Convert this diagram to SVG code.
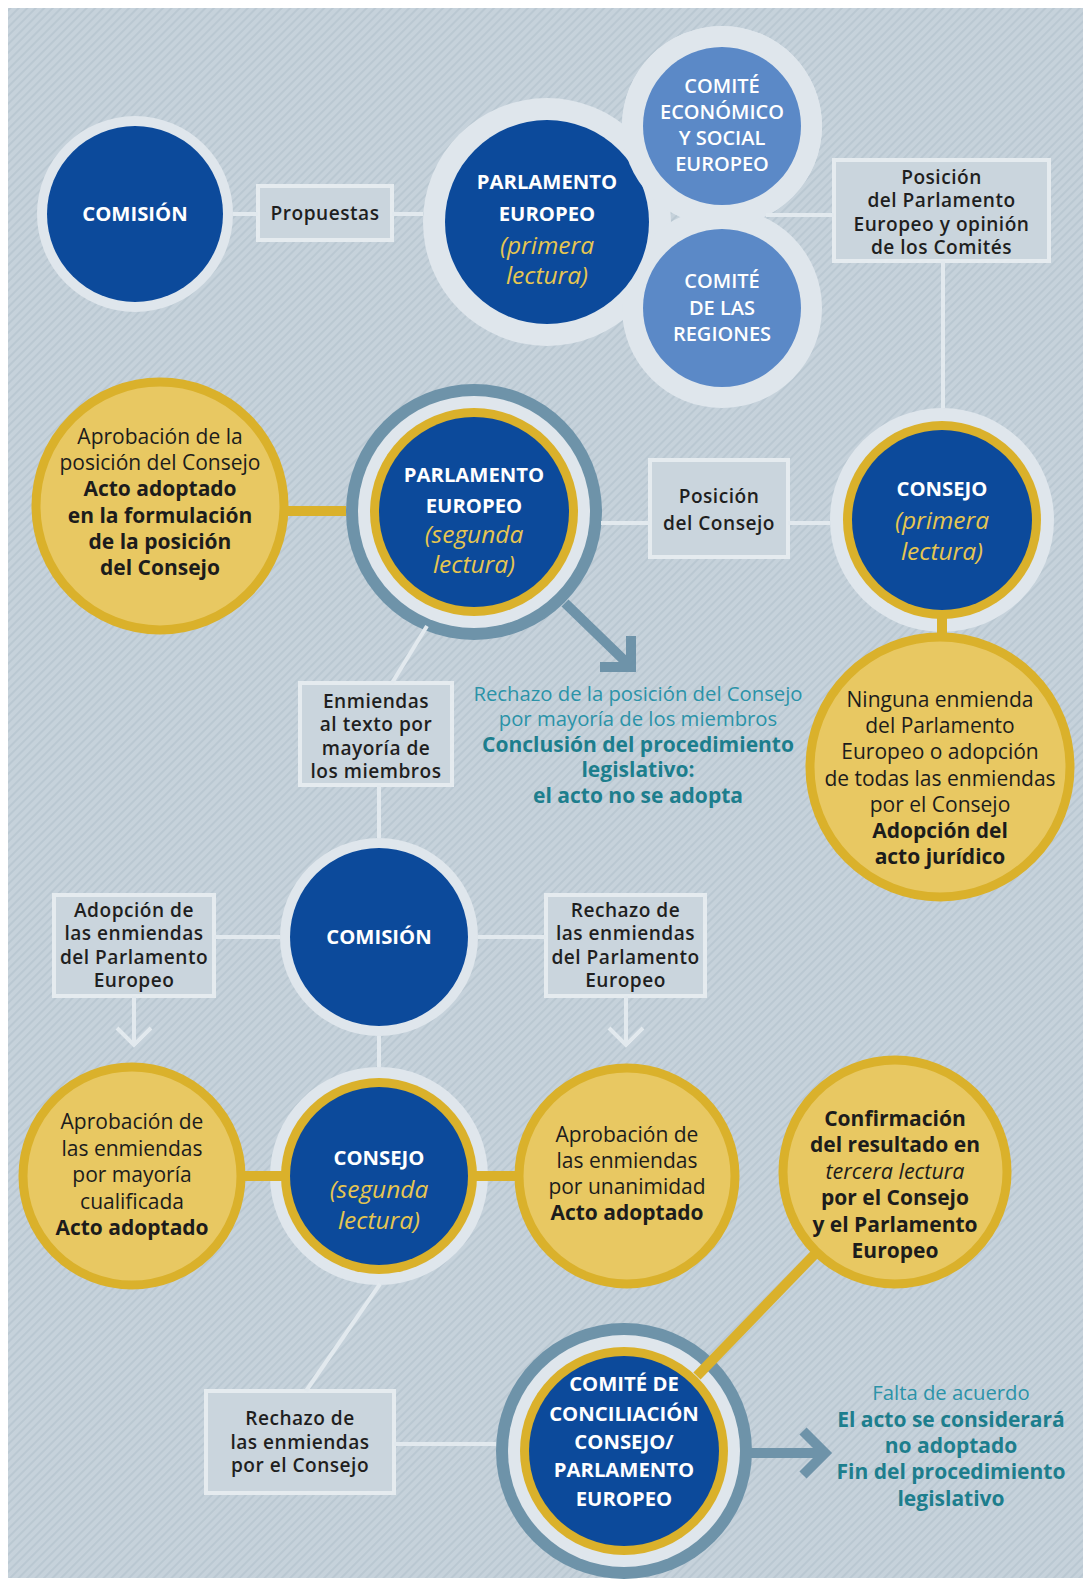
<svg xmlns="http://www.w3.org/2000/svg" width="1083" height="1586" viewBox="0 0 1083 1586">
<defs>
<pattern id="stripes" width="6" height="6" patternUnits="userSpaceOnUse" patternTransform="rotate(45)">
<rect width="6" height="6" fill="#c6d2db"/>
<rect width="2" height="6" fill="#bac8d2"/>
</pattern>
<style>
text{font-family:"Open Sans","Noto Sans","DejaVu Sans",sans-serif;text-anchor:middle}
.t{font-size:20.3px;font-weight:700;fill:#ffffff}
.it{font-size:24.5px;font-style:italic;font-weight:400;fill:#e6c651}
.cm{font-size:20px;font-weight:600;fill:#ffffff}
.bx{font-size:19.1px;font-weight:600;letter-spacing:0.5px;fill:#1f1f1f}
.n{font-size:21px;font-weight:400;fill:#1c1c1c}
.b{font-size:21px;font-weight:700;fill:#1c1c1c}
.i{font-size:21.5px;font-style:italic;font-weight:400;fill:#1c1c1c}
.tn{font-size:20.3px;font-weight:400;fill:#2b93a8}
.tb{font-size:21px;font-weight:700;fill:#1d7e8d}
.box{fill:#cad5dd;stroke:#e5ebef;stroke-width:4}
.blue{fill:#0c4a9b}
.ring{fill:#dfe6ec}
.gold{fill:#dab12b}
.steel{fill:#6e93a9}
.yel{fill:#e8c862;stroke:#dab12b;stroke-width:9}
.cb{fill:#5b89c7}
.ln{stroke:#e2e9ee;stroke-width:4;fill:none}
.gl{stroke:#dab12b;stroke-width:10;fill:none}
.ar{stroke:#6e93a9;stroke-width:10;fill:none;stroke-linejoin:miter}
</style>
</defs>
<rect width="1083" height="1586" fill="#ffffff"/>
<rect x="8" y="8" width="1075" height="1570" fill="url(#stripes)"/>

<g id="comision-1">
<circle cx="135" cy="214" r="98" class="ring"/>
<circle cx="135" cy="214" r="88" class="blue"/>
<text x="135" y="221" class="t">COMISIÓN</text>
</g>

<g id="propuestas">
<rect x="258" y="186" width="134" height="54" class="box"/>
<text x="325" y="220" class="bx">Propuestas</text>
</g>

<g id="parlamento-1">
<circle cx="547" cy="222" r="124" class="ring"/>
<circle cx="722" cy="126" r="100" class="ring"/>
<circle cx="722" cy="308" r="100" class="ring"/>
<circle cx="547" cy="222" r="102" class="blue"/>
<text x="547" y="189"><tspan x="547" y="189" class="t">PARLAMENTO</tspan><tspan x="547" y="221" class="t">EUROPEO</tspan><tspan x="547" y="254" class="it">(primera</tspan><tspan x="547" y="284" class="it">lectura)</tspan></text>
</g>

<g id="comite-economico">
<circle cx="722" cy="126" r="100" class="ring"/>
<circle cx="722" cy="126" r="79" class="cb"/>
<text x="722" y="93" class="cm"><tspan x="722" y="93">COMITÉ</tspan><tspan x="722" y="118.5">ECONÓMICO</tspan><tspan x="722" y="144.5">Y SOCIAL</tspan><tspan x="722" y="171">EUROPEO</tspan></text>
</g>

<g id="comite-regiones">
<circle cx="722" cy="308" r="79" class="cb"/>
<text x="722" y="288" class="cm"><tspan x="722" y="288">COMITÉ</tspan><tspan x="722" y="314.5">DE LAS</tspan><tspan x="722" y="341">REGIONES</tspan></text>
</g>

<g id="posicion-parlamento">
<rect x="834" y="160" width="215" height="101" class="box"/>
<text x="941.5" y="184" class="bx"><tspan x="941.5" y="184">Posición</tspan><tspan x="941.5" y="207.4">del Parlamento</tspan><tspan x="941.5" y="230.8">Europeo y opinión</tspan><tspan x="941.5" y="254.2">de los Comités</tspan></text>
</g>

<g id="aprobacion-posicion">
<circle cx="160" cy="506" r="124" class="yel"/>
<text x="160" y="444"><tspan x="160" y="444" class="n">Aprobación de la</tspan><tspan x="160" y="470.2" class="n">posición del Consejo</tspan><tspan x="160" y="496.4" class="b">Acto adoptado</tspan><tspan x="160" y="522.6" class="b">en la formulación</tspan><tspan x="160" y="548.8" class="b">de la posición</tspan><tspan x="160" y="575" class="b">del Consejo</tspan></text>
</g>

<g id="parlamento-2">
<circle cx="474" cy="512" r="128" class="steel"/>
<circle cx="474" cy="512" r="116" class="ring"/>
<circle cx="474" cy="512" r="104" class="gold"/>
<circle cx="474" cy="512" r="95" class="blue"/>
<text x="474" y="482"><tspan x="474" y="482" class="t">PARLAMENTO</tspan><tspan x="474" y="513" class="t">EUROPEO</tspan><tspan x="474" y="543" class="it">(segunda</tspan><tspan x="474" y="573" class="it">lectura)</tspan></text>
</g>

<g id="posicion-consejo">
<rect x="650" y="460" width="138" height="97" class="box"/>
<text x="719" y="503" class="bx"><tspan x="719" y="503">Posición</tspan><tspan x="719" y="530">del Consejo</tspan></text>
</g>

<g id="consejo-1">
<circle cx="942" cy="520" r="112" class="ring"/>
<circle cx="942" cy="520" r="99" class="gold"/>
<circle cx="942" cy="520" r="90" class="blue"/>
<text x="942" y="496"><tspan x="942" y="496" class="t">CONSEJO</tspan><tspan x="942" y="529" class="it">(primera</tspan><tspan x="942" y="560" class="it">lectura)</tspan></text>
</g>

<g id="ninguna-enmienda">
<circle cx="940" cy="767" r="130" class="yel"/>
<text x="940" y="707"><tspan x="940" y="707" class="n">Ninguna enmienda</tspan><tspan x="940" y="733.2" class="n">del Parlamento</tspan><tspan x="940" y="759.4" class="n">Europeo o adopción</tspan><tspan x="940" y="785.6" class="n">de todas las enmiendas</tspan><tspan x="940" y="811.8" class="n">por el Consejo</tspan><tspan x="940" y="838" class="b">Adopción del</tspan><tspan x="940" y="864.2" class="b">acto jurídico</tspan></text>
</g>

<g id="enmiendas-texto">
<rect x="300" y="683" width="152" height="102" class="box"/>
<text x="376" y="708" class="bx"><tspan x="376" y="708">Enmiendas</tspan><tspan x="376" y="731.4">al texto por</tspan><tspan x="376" y="754.8">mayoría de</tspan><tspan x="376" y="778.2">los miembros</tspan></text>
</g>

<g id="rechazo-posicion">
<text x="638" y="701"><tspan x="638" y="701" class="tn">Rechazo de la posición del Consejo</tspan><tspan x="638" y="726.2" class="tn">por mayoría de los miembros</tspan><tspan x="638" y="751.8" class="tb">Conclusión del procedimiento</tspan><tspan x="638" y="777.4" class="tb">legislativo:</tspan><tspan x="638" y="803" class="tb">el acto no se adopta</tspan></text>
</g>

<g id="comision-2">
<circle cx="379" cy="937" r="99" class="ring"/>
<circle cx="379" cy="937" r="89" class="blue"/>
<text x="379" y="944" class="t">COMISIÓN</text>
</g>

<g id="adopcion-enmiendas">
<rect x="54" y="895" width="160" height="101" class="box"/>
<text x="134" y="917" class="bx"><tspan x="134" y="917">Adopción de</tspan><tspan x="134" y="940.4">las enmiendas</tspan><tspan x="134" y="963.8">del Parlamento</tspan><tspan x="134" y="987.2">Europeo</tspan></text>
</g>

<g id="rechazo-enmiendas-pe">
<rect x="546" y="895" width="159" height="101" class="box"/>
<text x="625.5" y="917" class="bx"><tspan x="625.5" y="917">Rechazo de</tspan><tspan x="625.5" y="940.4">las enmiendas</tspan><tspan x="625.5" y="963.8">del Parlamento</tspan><tspan x="625.5" y="987.2">Europeo</tspan></text>
</g>

<g id="aprobacion-cualificada">
<circle cx="132" cy="1176" r="109" class="yel"/>
<text x="132" y="1129"><tspan x="132" y="1129" class="n">Aprobación de</tspan><tspan x="132" y="1155.5" class="n">las enmiendas</tspan><tspan x="132" y="1182" class="n">por mayoría</tspan><tspan x="132" y="1208.5" class="n">cualificada</tspan><tspan x="132" y="1235" class="b">Acto adoptado</tspan></text>
</g>

<g id="consejo-2">
<circle cx="379" cy="1176" r="109" class="ring"/>
<circle cx="379" cy="1176" r="98" class="gold"/>
<circle cx="379" cy="1176" r="89" class="blue"/>
<text x="379" y="1165"><tspan x="379" y="1165" class="t">CONSEJO</tspan><tspan x="379" y="1198" class="it">(segunda</tspan><tspan x="379" y="1228.5" class="it">lectura)</tspan></text>
</g>

<g id="aprobacion-unanimidad">
<circle cx="627" cy="1176" r="108" class="yel"/>
<text x="627" y="1141.5"><tspan x="627" y="1141.5" class="n">Aprobación de</tspan><tspan x="627" y="1167.7" class="n">las enmiendas</tspan><tspan x="627" y="1193.9" class="n">por unanimidad</tspan><tspan x="627" y="1220.1" class="b">Acto adoptado</tspan></text>
</g>

<g id="confirmacion">
<circle cx="895" cy="1172" r="112" class="yel"/>
<text x="895" y="1126"><tspan x="895" y="1126" class="b">Confirmación</tspan><tspan x="895" y="1152.4" class="b">del resultado en</tspan><tspan x="895" y="1178.8" class="i">tercera lectura</tspan><tspan x="895" y="1205.2" class="b">por el Consejo</tspan><tspan x="895" y="1231.6" class="b">y el Parlamento</tspan><tspan x="895" y="1258" class="b">Europeo</tspan></text>
</g>

<g id="rechazo-consejo">
<rect x="206" y="1391" width="188" height="102" class="box"/>
<text x="300" y="1425" class="bx"><tspan x="300" y="1425">Rechazo de</tspan><tspan x="300" y="1448.5">las enmiendas</tspan><tspan x="300" y="1472">por el Consejo</tspan></text>
</g>

<g id="comite-conciliacion">
<circle cx="624" cy="1451" r="128" class="steel"/>
<circle cx="624" cy="1451" r="116" class="ring"/>
<circle cx="624" cy="1451" r="104" class="gold"/>
<circle cx="624" cy="1451" r="95" class="blue"/>
<text x="624" y="1391" class="t"><tspan x="624" y="1391">COMITÉ DE</tspan><tspan x="624" y="1421">CONCILIACIÓN</tspan><tspan x="624" y="1449">CONSEJO/</tspan><tspan x="624" y="1477">PARLAMENTO</tspan><tspan x="624" y="1506">EUROPEO</tspan></text>
</g>

<g id="falta-acuerdo">
<text x="951" y="1400"><tspan x="951" y="1400" class="tn">Falta de acuerdo</tspan><tspan x="951" y="1426.5" class="tb">El acto se considerará</tspan><tspan x="951" y="1453" class="tb">no adoptado</tspan><tspan x="951" y="1479.3" class="tb">Fin del procedimiento</tspan><tspan x="951" y="1505.6" class="tb">legislativo</tspan></text>
</g>

<g id="connectors">
<line x1="233" y1="214" x2="258" y2="214" class="ln"/>
<line x1="392" y1="214" x2="423" y2="214" class="ln"/>
<line x1="766" y1="215" x2="834" y2="215" class="ln"/>
<line x1="943" y1="261" x2="943" y2="408" class="ln"/>
<line x1="280" y1="511" x2="346" y2="511" class="gl"/>
<line x1="601" y1="523" x2="650" y2="523" class="ln"/>
<line x1="788" y1="523" x2="830" y2="523" class="ln"/>
<line x1="942" y1="612" x2="942" y2="641" class="gl"/>
<line x1="427" y1="626" x2="392" y2="683" class="ln"/>
<line x1="379" y1="785" x2="379" y2="838" class="ln"/>
<line x1="214" y1="937" x2="280" y2="937" class="ln"/>
<line x1="478" y1="937" x2="546" y2="937" class="ln"/>
<line x1="134" y1="996" x2="134" y2="1045" class="ln"/>
<polyline points="117,1028 134,1045 151,1028" class="ln"/>
<line x1="626" y1="996" x2="626" y2="1045" class="ln"/>
<polyline points="609,1028 626,1045 643,1028" class="ln"/>
<line x1="379" y1="1036" x2="379" y2="1067" class="ln"/>
<line x1="237" y1="1176" x2="283" y2="1176" class="gl"/>
<line x1="475" y1="1176" x2="523" y2="1176" class="gl"/>
<line x1="380" y1="1284" x2="306" y2="1391" class="ln"/>
<line x1="394" y1="1444" x2="496" y2="1444" class="ln"/>
<line x1="814" y1="1255" x2="697" y2="1376" class="gl"/>
<line x1="565" y1="603" x2="628" y2="664" class="ar"/>
<polyline points="600,667 631,667 631,636" class="ar"/>
<line x1="751" y1="1453" x2="824" y2="1453" class="ar"/>
<polyline points="803,1431 825,1453 803,1475" class="ar"/>
</g>
</svg>
